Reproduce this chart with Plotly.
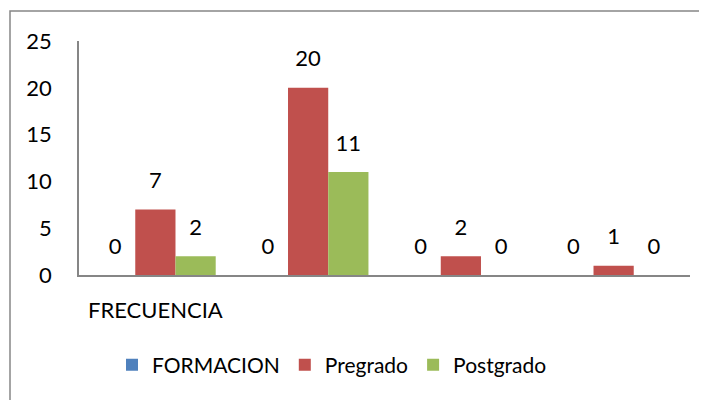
import plotly.graph_objects as go

categories = ["FRECUENCIA", " ", "  ", "   "]
formacion = [0, 0, 0, 0]
pregrado = [7, 20, 2, 1]
postgrado = [2, 11, 0, 0]
series_names = ["FORMACION", "Pregrado", "Postgrado"]
colors = ["#4F81BD", "#C0504D", "#9BBB59"]
y_ticks = [0, 5, 10, 15, 20, 25]

FONT = "Lato, Calibri, Carlito, sans-serif"

fig = go.Figure()
for i, (name, vals, col) in enumerate(zip(series_names, [formacion, pregrado, postgrado], colors)):
    fig.add_trace(go.Bar(
        x=categories, y=vals, name=name, offsetgroup=str(i),
        marker=dict(color=col, line=dict(width=0)),
    ))
for i, vals in enumerate([formacion, pregrado, postgrado]):
    fig.add_trace(go.Scatter(
        x=categories, y=vals, mode="markers+text", text=[str(v) for v in vals],
        textposition="top center", offsetgroup=str(i), showlegend=False,
        marker=dict(size=24, opacity=0), hoverinfo="skip", cliponaxis=False,
        textfont=dict(family=FONT, size=22, color="black"),
    ))

# page body has an 8px margin
W, H = 699, 392
off = 8
ml, mr, mt, mb = 79 - off, 17, 41 - off, 125
pw = W - ml - mr
ph = H - mt - mb
x0_px = 79  # screen x of plot left
y0_px = 275  # screen y of zero line

fig.update_layout(
    width=W, height=H,
    margin=dict(l=ml, r=mr, t=mt, b=mb, pad=0),
    paper_bgcolor="white", plot_bgcolor="white",
    barmode="group", bargap=0.21, bargroupgap=0,
    scattermode="group", scattergap=0.21,
    font=dict(family=FONT, size=22, color="black"),
    showlegend=True,
    legend=dict(orientation="h", x=(332 - x0_px) / pw, xanchor="center",
                y=(y0_px - 365) / ph, yanchor="middle",
                font=dict(family=FONT, size=21, color="black"),
                itemwidth=30, traceorder="normal"),
    xaxis=dict(showline=True, linecolor="#868686", linewidth=1.5, showgrid=False,
               ticks="", ticklabelstandoff=15, zeroline=False),
    yaxis=dict(range=[0, 25], tickvals=y_ticks, showline=True, linecolor="#868686",
               linewidth=1.5, showgrid=False, zeroline=False, ticks="",
               ticklabelstandoff=21),
    shapes=[dict(type="rect", xref="paper", yref="paper",
                 x0=(10 - x0_px) / pw, x1=(712 - x0_px) / pw,
                 y0=(y0_px - 405) / ph, y1=1 + (41 - 11) / ph,
                 line=dict(color="#868686", width=1.5), fillcolor="rgba(0,0,0,0)",
                 layer="below")],
)

fig.write_html("out.html")
